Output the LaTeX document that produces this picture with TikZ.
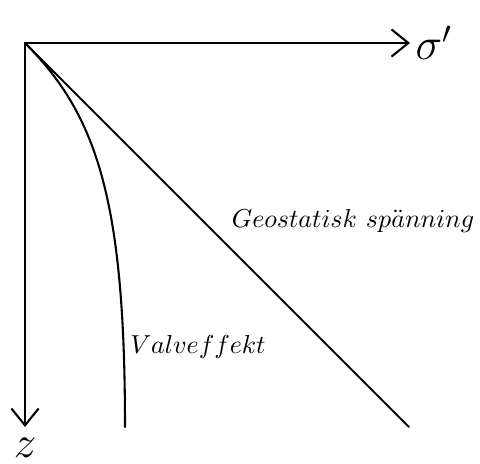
\documentclass[tikz,border=0pt]{standalone}
\usepackage{amsmath,amssymb}
\usepackage{tikz}
\usetikzlibrary{arrows.meta,positioning}
\tikzset{
  every picture/.append style={line cap=round,line join=round},
  soil axis/.style={line width=0.8pt,-{Straight Barb[length=6.5pt,width=10.5pt,line width=0.8pt]}},
  soil curve/.style={line width=0.8pt},
  soil label/.style={inner sep=0pt,font=\fontsize{10.4pt}{12pt}\selectfont},
  soil big/.style={inner sep=0pt,font=\LARGE}
}
\begin{document}
\begin{tikzpicture}[x=0.385pt, y=-0.385pt]
  \useasboundingbox (0,0) rectangle (480,463);
  \coordinate (o) at (25,43);
  \coordinate (sigend) at (410,43);
  \coordinate (zend) at (25,427);
  \coordinate (geoend) at (409,427);
  \coordinate (valvend) at (125,427);
  \draw[soil axis] (o) -- (sigend);
  \draw[soil axis] (o) -- (zend);
  \node[soil big, right=2pt of sigend] (sig) {$\sigma'$};
  \node[soil big, below=4pt of zend] (z) {$z$};
  % geostatic stress, linear with depth
  \draw[soil curve] (o) -- (geoend);
  % arching
  \draw[soil curve] (o) .. controls (97,115) and (125,200) .. (valvend);
  \node[soil label] (geo) at (353,221) {$Geostatisk\ sp\ddot{a}nning$};
  \node[soil label] (valv) at (198,347) {$Valveffekt$};
\end{tikzpicture}
\end{document}
